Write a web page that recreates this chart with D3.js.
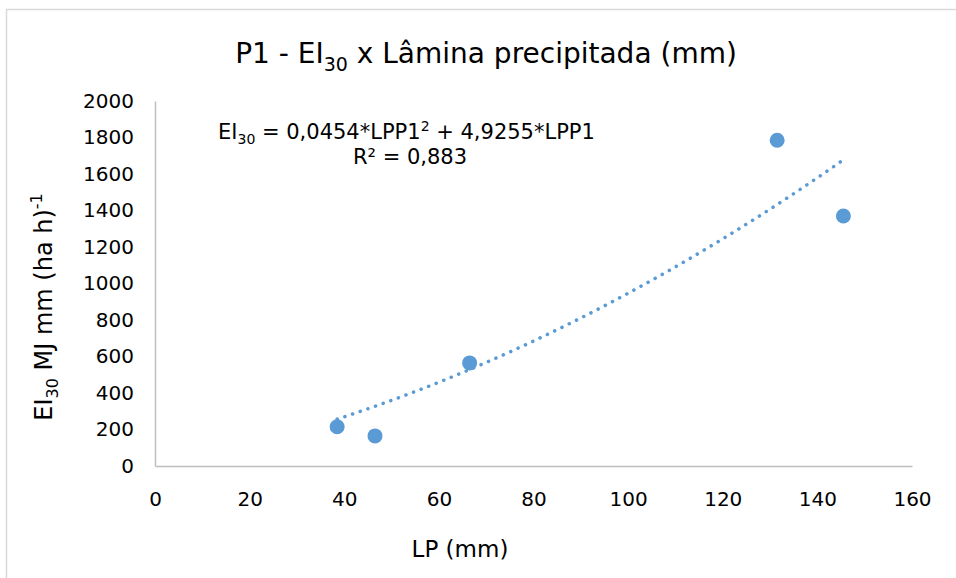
<!DOCTYPE html>
<html>
<head>
<meta charset="utf-8">
<script src="https://cdn.jsdelivr.net/npm/d3@7"></script>
<style>
  body { margin: 0; background: #fff; }
  text { font-family: "DejaVu Sans", sans-serif; fill: #000; }
</style>
</head>
<body>
<svg id="chart" width="956" height="578"></svg>
<script>
// data
const lpValues = [38.5, 46.5, 66.5, 131.5, 145.5];
const eiValues = [215, 165, 565, 1785, 1370];
const coefA = 0.0454;
const coefB = 4.9255;
const xTicks = [0, 20, 40, 60, 80, 100, 120, 140, 160];
const yTicks = [0, 200, 400, 600, 800, 1000, 1200, 1400, 1600, 1800, 2000];

const COLOR = "#5B9BD5";
const svg = d3.select("#chart");

// outer chart border
svg.append("rect")
    .attr("x", 6.5).attr("y", 9.5)
    .attr("width", 960).attr("height", 600)
    .style("fill", "none").style("stroke", "#d9d9d9").style("stroke-width", 1.5);

const margin = { left: 155, right: 956 - 912, top: 101, bottom: 578 - 466 };
const x = d3.scaleLinear().domain([0, 160]).range([margin.left, 956 - margin.right]);
const y = d3.scaleLinear().domain([0, 2000]).range([578 - margin.bottom, margin.top]);

// axes
const xAxis = svg.append("g")
    .attr("transform", `translate(0, ${y(0)})`)
    .call(d3.axisBottom(x).tickValues(xTicks).tickSize(0).tickPadding(26).tickFormat(d3.format("d")));
xAxis.select(".domain").style("stroke", "#bfbfbf").style("stroke-width", 1.5);
xAxis.selectAll("text").style("font-size", "20px").style("font-family", "DejaVu Sans");

const yAxis = svg.append("g")
    .attr("transform", `translate(${x(0)}, 0)`)
    .call(d3.axisLeft(y).tickValues(yTicks).tickSize(0).tickPadding(21).tickFormat(d3.format("d")));
yAxis.select(".domain").style("stroke", "#bfbfbf").style("stroke-width", 1.5);
yAxis.selectAll("text").style("font-size", "20px").style("font-family", "DejaVu Sans");

// polynomial trendline
const lo = d3.min(lpValues), hi = d3.max(lpValues);
const trend = d3.range(0, 61).map(i => {
    const v = lo + (hi - lo) * i / 60;
    return [v, coefA * v * v + coefB * v];
});
svg.append("path")
    .datum(trend)
    .attr("d", d3.line().x(d => x(d[0])).y(d => y(d[1])))
    .style("fill", "none")
    .style("stroke", COLOR)
    .style("stroke-width", 3.5)
    .style("stroke-linecap", "round")
    .style("stroke-dasharray", "0.1 8");

// points
svg.selectAll("circle.pt")
    .data(lpValues)
    .enter().append("circle")
    .attr("class", "pt")
    .attr("cx", d => x(d))
    .attr("cy", (d, i) => y(eiValues[i]))
    .attr("r", 7.5)
    .style("fill", COLOR);

// title
const title = svg.append("text")
    .attr("x", 486).attr("y", 63)
    .attr("text-anchor", "middle")
    .style("font-size", "28px");
title.append("tspan").text("P1 - EI");
title.append("tspan").attr("dy", 8).style("font-size", "19px").text("30");
title.append("tspan").attr("dy", -8).text(" x Lâmina precipitada (mm)");

// equation
const eq = svg.append("text")
    .attr("x", 218).attr("y", 139)
    .style("font-size", "21px");
eq.append("tspan").text("EI");
eq.append("tspan").attr("dy", 5).style("font-size", "14px").text("30");
eq.append("tspan").attr("dy", -5).text(" = 0,0454*LPP1");
eq.append("tspan").attr("dy", -8).style("font-size", "14px").text("2");
eq.append("tspan").attr("dy", 8).text(" + 4,9255*LPP1");

svg.append("text")
    .attr("x", 410).attr("y", 164)
    .attr("text-anchor", "middle")
    .style("font-size", "21px")
    .text("R² = 0,883");

// axis titles
svg.append("text")
    .attr("x", 460).attr("y", 557)
    .attr("text-anchor", "middle")
    .style("font-size", "23px")
    .text("LP (mm)");

const yt = svg.append("text")
    .attr("transform", "translate(52, 307) rotate(-90)")
    .attr("text-anchor", "middle")
    .style("font-size", "24px");
yt.append("tspan").text("EI");
yt.append("tspan").attr("dy", 6).style("font-size", "16px").text("30");
yt.append("tspan").attr("dy", -6).text(" MJ mm (ha h)");
yt.append("tspan").attr("dy", -10).style("font-size", "16px").text("-1");
</script>
</body>
</html>
